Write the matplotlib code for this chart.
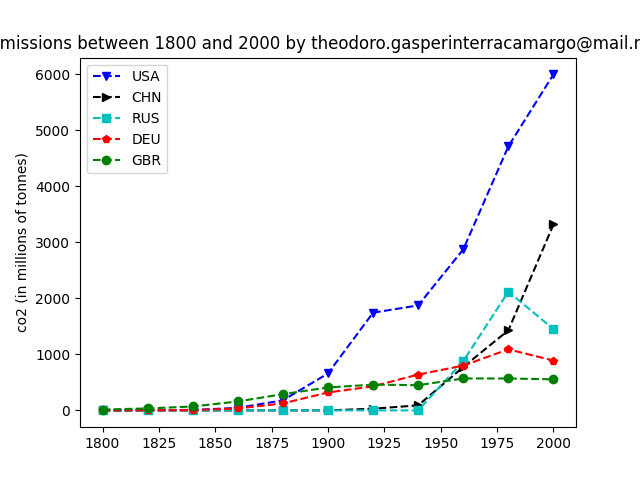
import matplotlib
matplotlib.use("Agg")
import matplotlib.pyplot as plt

years = [1800, 1820, 1840, 1860, 1880, 1900, 1920, 1940, 1960, 1980, 2000]

# co2 in millions of tonnes
usa = [1, 5, 8, 45, 180, 660, 1745, 1875, 2875, 4715, 6000]
chn = [0, 0, 0, 0, 0, 0, 30, 90, 775, 1430, 3320]
rus = [0, 0, 0, 0, 0, 0, 0, 0, 880, 2120, 1452]
deu = [1, 3, 5, 35, 125, 320, 430, 640, 800, 1090, 890]
gbr = [15, 35, 70, 160, 290, 410, 460, 450, 570, 570, 555]

countries = ["USA", "CHN", "RUS", "DEU", "GBR"]
series = [usa, chn, rus, deu, gbr]
styles = ["b--v", "k-->", "c--s", "r--p", "g--o"]

fig, ax = plt.subplots()
for name, vals, fmt in zip(countries, series, styles):
    ax.plot(years, vals, fmt, label=name)

ax.set_ylabel("co2 (in millions of tonnes)")
ax.set_title("CO2 emissions between 1800 and 2000 by theodoro.gasperinterracamargo@mail.mcgill.ca")
ax.legend(loc="upper left")

fig.savefig("out.png")
